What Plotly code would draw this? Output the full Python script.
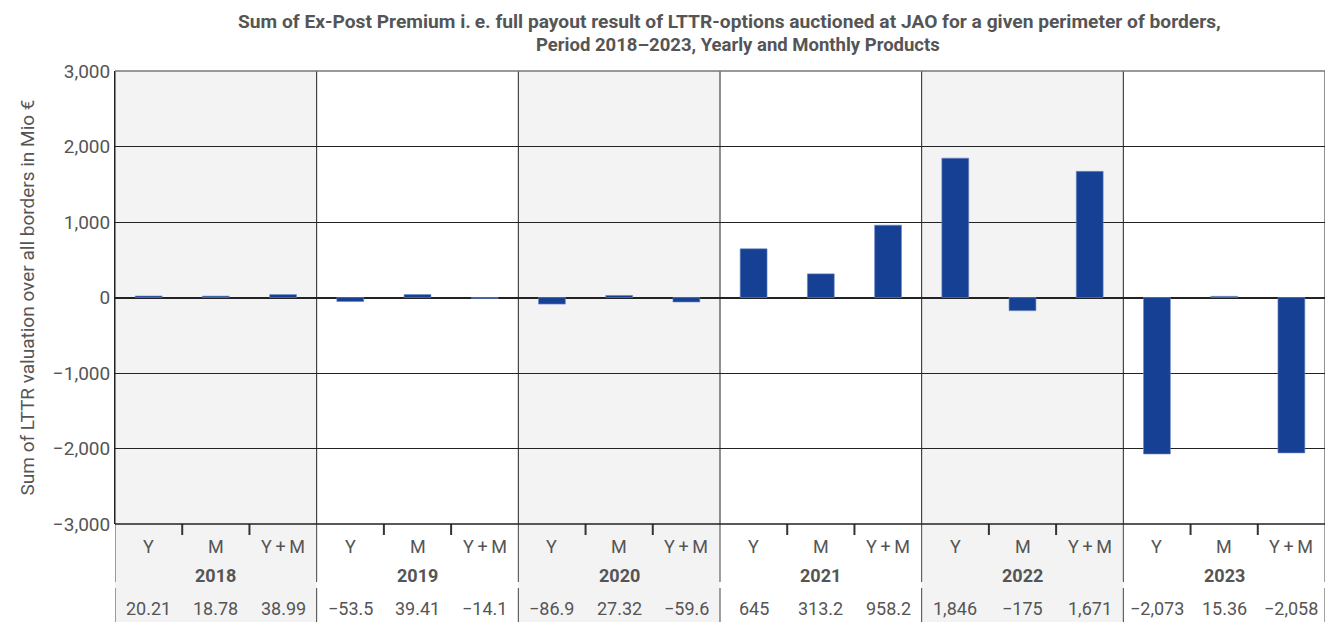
import plotly.graph_objects as go

years = ["2018", "2019", "2020", "2021", "2022", "2023"]
products = ["Y", "M", "Y\u2009+\u2009M"]
values = [20.21, 18.78, 38.99, -53.5, 39.41, -14.1, -86.9, 27.32, -59.6,
          645, 313.2, 958.2, 1846, -175, 1671, -2073, 15.36, -2058]
value_labels = ["20.21", "18.78", "38.99", "\u221253.5", "39.41", "\u221214.1",
                "\u221286.9", "27.32", "\u221259.6", "645", "313.2", "958.2",
                "1,846", "\u2212175", "1,671", "\u22122,073", "15.36", "\u22122,058"]
y_ticks = [-3000, -2000, -1000, 0, 1000, 2000, 3000]
y_tick_labels = ["\u22123,000", "\u22122,000", "\u22121,000", "0", "1,000", "2,000", "3,000"]
title_lines = ["Sum of Ex-Post Premium i.\u2009e. full payout result of LTTR-options auctioned at JAO for a given perimeter of borders,",
               "Period 2018\u20132023, Yearly and Monthly Products"]
y_title = "Sum of LTTR valuation over all borders in Mio \u20ac"

FONT = "Roboto"
TXT = "#555555"
BAR = "#164094"

n = len(values)
xs = list(range(n))

fig = go.Figure()
fig.add_trace(go.Bar(x=xs, y=values, width=0.4,
                     marker=dict(color=BAR, line=dict(color="#6f8cc4", width=0.6)),
                     hoverinfo="y"))

shapes = []
annotations = []
H = 453.0
W = 1210.0
def py(pix):
    return (524 - pix) / H
def px(pix):
    return (pix - 115) / W

def label(x, y, text, size=18, xref="x"):
    return dict(x=x, y=y, xref=xref, yref="paper", text=text, showarrow=False,
                xanchor="center", yanchor="middle", font=dict(family=FONT, size=size, color=TXT))

for gi, yr in enumerate(years):
    x0 = gi * 3 - 0.5
    x1 = gi * 3 + 2.5
    if gi % 2 == 0:
        shapes.append(dict(type="rect", xref="x", yref="paper", x0=x0, x1=x1, y0=py(622), y1=1,
                           fillcolor="#f3f3f3", line=dict(width=0), layer="below"))
    annotations.append(label(gi * 3 + 1, py(575), "<b>%s</b>" % yr))
    for k in range(3):
        i = gi * 3 + k
        annotations.append(label(i, py(546), products[k]))
        annotations.append(label(i, py(608), value_labels[i]))

# group separators
for gi in range(len(years) + 1):
    xb = gi * 3 - 0.5
    shapes.append(dict(type="line", xref="x", yref="paper", x0=xb, x1=xb, y0=0, y1=1,
                       line=dict(color="#222222", width=1), layer="above"))
    shapes.append(dict(type="line", xref="x", yref="paper", x0=xb, x1=xb, y0=py(524), y1=py(582),
                       line=dict(color="#444444", width=1)))
    shapes.append(dict(type="line", xref="x", yref="paper", x0=xb, x1=xb, y0=py(588), y1=py(622),
                       line=dict(color="#444444", width=1)))
# sub ticks
for gi in range(len(years)):
    for k in (0.5, 1.5):
        xb = gi * 3 + k
        shapes.append(dict(type="line", xref="x", yref="paper", x0=xb, x1=xb, y0=py(524), y1=py(535),
                           line=dict(color="#333333", width=2)))
# top border grey, bottom axis line black
shapes.append(dict(type="line", xref="paper", yref="paper", x0=0, x1=1, y0=1, y1=1,
                   line=dict(color="#777777", width=1.5), layer="above"))
shapes.append(dict(type="line", xref="paper", yref="paper", x0=0, x1=1, y0=0, y1=0,
                   line=dict(color="#222222", width=1.5), layer="above"))

yt = label(px(27), 0.5, y_title, size=19, xref="paper")
yt["textangle"] = -90
annotations.append(yt)
annotations.append(label(px(729), py(22), "<b>%s</b>" % title_lines[0], size=19.2, xref="paper"))
annotations.append(label(px(738), py(45), "<b>%s</b>" % title_lines[1], size=18.5, xref="paper"))

fig.update_layout(
    width=1331, height=635,
    margin=dict(l=115, r=6, t=71, b=111),
    paper_bgcolor="white", plot_bgcolor="white",
    showlegend=False,
    xaxis=dict(range=[-0.5, n - 0.5], showticklabels=False, showgrid=False, zeroline=False,
               showline=False, ticks=""),
    yaxis=dict(range=[-3000, 3000], tickvals=y_ticks, ticktext=y_tick_labels,
               showgrid=True, gridcolor="#222222", gridwidth=1,
               zeroline=True, zerolinecolor="#222222", zerolinewidth=1.5,
               showline=True, linecolor="#222222", linewidth=1,
               tickfont=dict(family=FONT, size=19, color=TXT), ticks=""),
    shapes=shapes, annotations=annotations,
)

fig.write_html("out.html", config={"displayModeBar": False},
               post_script="document.body.style.margin='0';document.body.style.overflow='hidden';")
